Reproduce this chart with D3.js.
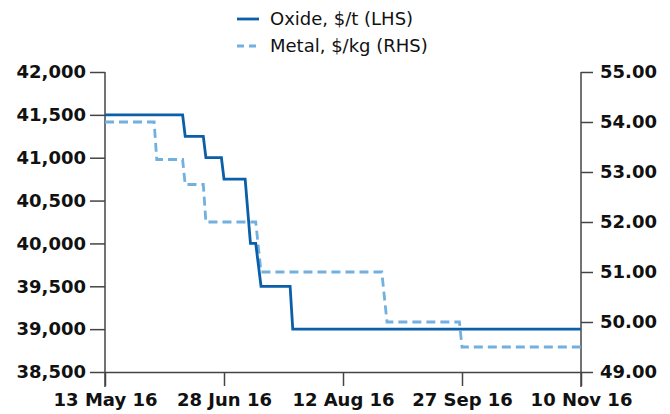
<!DOCTYPE html>
<html>
<head>
<meta charset="utf-8">
<script src="https://cdn.jsdelivr.net/npm/d3@7"></script>
<style>
  body { margin: 0; background: #fff; }
  svg { display: block; font-family: "DejaVu Sans", sans-serif; }
  .axis path, .axis line { stroke: #444; stroke-width: 1.5; }
  .axis text { font-family: "DejaVu Sans", sans-serif; font-size: 18px; font-weight: bold; fill: #111; }
</style>
</head>
<body>
<svg id="chart" width="670" height="414"></svg>
<script>
// tick dates on the x axis (evenly spaced in the source chart)
var tickDates = ['2016-05-13', '2016-06-28', '2016-08-12', '2016-09-27', '2016-11-10'];

// Oxide, $/t (LHS) - change points
var oxideDates = ['2016-05-13', '2016-06-12', '2016-06-13', '2016-06-20', '2016-06-21',
                  '2016-06-27', '2016-06-28', '2016-07-06', '2016-07-08', '2016-07-10',
                  '2016-07-12', '2016-07-23', '2016-07-24', '2016-11-10'];
var oxideValues = [41500, 41500, 41250, 41250, 41000,
                   41000, 40750, 40750, 40000, 40000,
                   39500, 39500, 39000, 39000];

// Metal, $/kg (RHS) - change points
var metalDates = ['2016-05-13', '2016-06-01', '2016-06-02', '2016-06-12', '2016-06-13',
                  '2016-06-20', '2016-06-21', '2016-07-10', '2016-07-12', '2016-08-27',
                  '2016-08-29', '2016-09-26', '2016-09-27', '2016-11-10'];
var metalValues = [54.00, 54.00, 53.25, 53.25, 52.75,
                   52.75, 52.00, 52.00, 51.00, 51.00,
                   50.00, 50.00, 49.50, 49.50];

var leftTicks = [38500, 39000, 39500, 40000, 40500, 41000, 41500, 42000];
var rightTicks = [49, 50, 51, 52, 53, 54, 55];

var seriesNames = ['Oxide, $/t (LHS)', 'Metal, $/kg (RHS)'];
var colors = ['#0b5ea8', '#72b0e0'];

var parse = d3.timeParse('%Y-%m-%d');
var fmtDate = d3.timeFormat('%-d %b %y');

var mLeft = 105, mRight = 581, mTop = 72, mBottom = 372;
var svg = d3.select('#chart');

// piecewise time scale so the ticks sit evenly like the original
var tickD = tickDates.map(parse);
var x = d3.scaleTime()
    .domain(tickD)
    .range(tickD.map(function(d, i) { return mLeft + i * (mRight - mLeft) / (tickD.length - 1); }));

var yL = d3.scaleLinear().domain([38500, 42000]).range([mBottom, mTop]);
var yR = d3.scaleLinear().domain([49, 55]).range([mBottom, mTop]);

// left axis
var gL = svg.append('g').attr('class', 'axis')
    .attr('transform', 'translate(' + mLeft + ',0)')
    .call(d3.axisLeft(yL).tickValues(leftTicks).tickFormat(d3.format(',')).tickSize(15).tickPadding(4));
gL.select('.domain').remove();
gL.append('line').attr('x1', 0).attr('x2', 0).attr('y1', mTop).attr('y2', mBottom + 15);

// right axis
var gR = svg.append('g').attr('class', 'axis')
    .attr('transform', 'translate(' + mRight + ',0)')
    .call(d3.axisRight(yR).tickValues(rightTicks).tickFormat(d3.format('.2f')).tickSize(12).tickPadding(7));
gR.select('.domain').remove();
gR.append('line').attr('x1', 0).attr('x2', 0).attr('y1', mTop).attr('y2', mBottom + 15);

// bottom axis
var gX = svg.append('g').attr('class', 'axis')
    .attr('transform', 'translate(0,' + mBottom + ')')
    .call(d3.axisBottom(x).tickValues(tickD).tickFormat(fmtDate).tickSize(14).tickPadding(7).tickSizeOuter(0));

// lines
var metal = metalDates.map(function(d, i) { return [parse(d), metalValues[i]]; });
var oxide = oxideDates.map(function(d, i) { return [parse(d), oxideValues[i]]; });

svg.append('path')
    .datum(metal)
    .attr('fill', 'none')
    .attr('stroke', colors[1])
    .attr('stroke-width', 2.8)
    .attr('stroke-dasharray', '9,5')
    .attr('d', d3.line().x(function(d) { return x(d[0]); }).y(function(d) { return yR(d[1]); }));

svg.append('path')
    .datum(oxide)
    .attr('fill', 'none')
    .attr('stroke', colors[0])
    .attr('stroke-width', 2.8)
    .attr('d', d3.line().x(function(d) { return x(d[0]); }).y(function(d) { return yL(d[1]); }));

// legend
var lg = svg.append('g').selectAll('g').data(seriesNames).enter().append('g')
    .attr('transform', function(d, i) { return 'translate(237,' + (19 + i * 27) + ')'; });
lg.append('line')
    .attr('x1', 0).attr('x2', 22).attr('y1', 0).attr('y2', 0)
    .attr('stroke', function(d, i) { return colors[i]; })
    .attr('stroke-width', 2.8)
    .attr('stroke-dasharray', function(d, i) { return i == 1 ? '7,5' : null; });
lg.append('text')
    .attr('x', 33).attr('dy', '0.35em')
    .style('font-size', '18px')
    .attr('fill', '#111')
    .text(function(d) { return d; });
</script>
</body>
</html>
